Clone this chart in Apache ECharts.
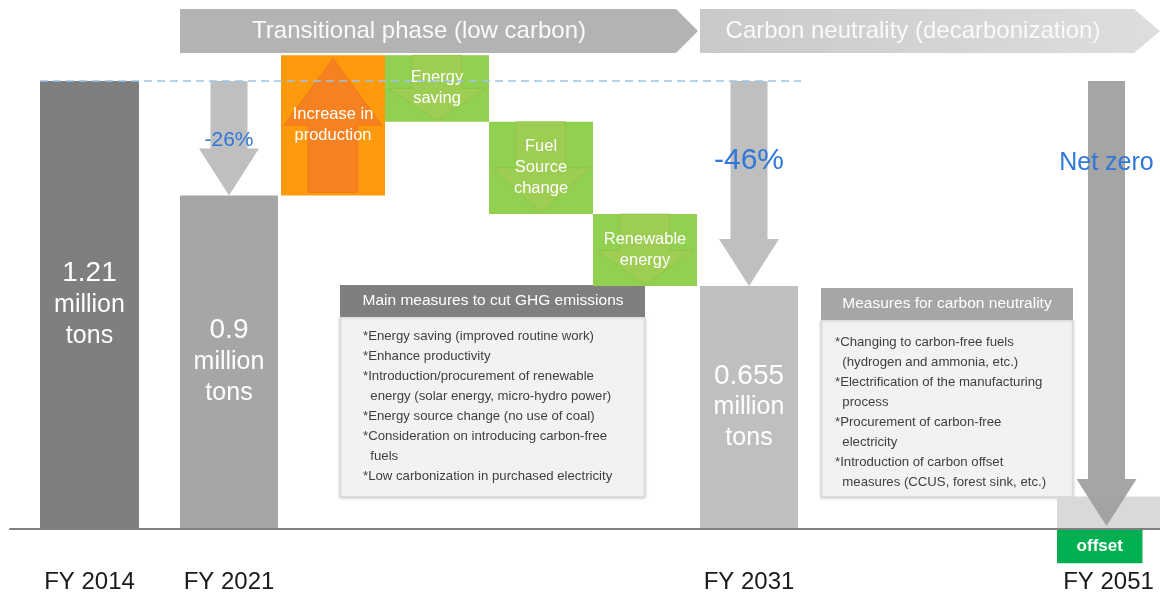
<!DOCTYPE html>
<html><head><meta charset="utf-8">
<script src="https://cdn.jsdelivr.net/npm/echarts@6/dist/echarts.min.js"></script>
<style>html,body{margin:0;padding:0;background:#fff}#c{width:1160px;height:594px}</style>
</head><body><div id="c"></div>
<script>
// ---------------- data ----------------
const baseYear = ['FY 2014'];
const baseValue = [1.21];
const stepCategories = ['FY 2021', 'Increase in production', 'Energy saving', 'Fuel Source change', 'Renewable energy', 'FY 2031'];
const stepLabels = ['', 'Increase in\nproduction', 'Energy\nsaving', 'Fuel\nSource\nchange', 'Renewable\nenergy', ''];
const totals = [0.9, null, null, null, null, 0.655];
const deltas = [null, 0.38, -0.18, -0.25, -0.195, null];
const reductionLabels = ['-26%', '-46%'];
const netZeroYear = ['FY 2051'];
const residualEmissions = [0.085];
const offsetAmount = [-0.09];
const netZeroLabel = 'Net zero';
const offsetLabel = 'offset';
const phaseLabels = ['Transitional phase (low carbon)', 'Carbon neutrality (decarbonization)'];
const mainMeasuresTitle = 'Main measures to cut GHG emissions';
const mainMeasures = [
  '*Energy saving (improved routine work)',
  '*Enhance productivity',
  '*Introduction/procurement of renewable',
  '  energy (solar energy, micro-hydro power)',
  '*Energy source change (no use of coal)',
  '*Consideration on introducing carbon-free',
  '  fuels',
  '*Low carbonization in purchased electricity'
];
const neutralityTitle = 'Measures for carbon neutrality';
const neutralityMeasures = [
  '*Changing to carbon-free fuels',
  '  (hydrogen and ammonia, etc.)',
  '*Electrification of the manufacturing',
  '  process',
  '*Procurement of carbon-free',
  '  electricity',
  '*Introduction of carbon offset',
  '  measures (CCUS, forest sink, etc.)'
];

// ---------------- layout / style ----------------
const FONT = '"Liberation Sans", Arial, Helvetica, sans-serif';
const BASE_Y = 528;
const UNIT = 447 / 1.21;
const Y_MAX = 1.4;
const gTop = BASE_Y - Y_MAX * UNIT;
const gBottom = 594 - BASE_Y;
const C_MIN = -0.1;
const gBottomC = gBottom + C_MIN * UNIT;
const BLUE = '#2f77d8';
const totalColors = ['#a6a6a6', null, null, null, null, '#bfbfbf'];
const LABEL_MARGIN = 42;

const chart = echarts.init(document.getElementById('c'));

// waterfall steps
const stepData = [];
let level = totals[0];
deltas.forEach((d, i) => {
  if (d == null) return;
  stepData.push([i, level, level + d]);
  level += d;
});

const arrowData = [[0, baseValue[0], totals[0]], [5, baseValue[0], totals[5]]];
const arrowStyle = [
  {color: '#bfbfbf', dy: 59, size: 21},
  {color: '#bfbfbf', dy: 80, size: 30}
];

function downArrow(cx, yTop, yBot, color) {
  const sw = 37, hw = 60, hh = 47;
  return {
    type: 'polygon',
    shape: {points: [[cx - sw/2, yTop], [cx + sw/2, yTop], [cx + sw/2, yBot - hh], [cx + hw/2, yBot - hh],
      [cx, yBot], [cx - hw/2, yBot - hh], [cx - sw/2, yBot - hh]]},
    style: {fill: color}
  };
}

function renderStep(params, api) {
  const i = api.value(0), s = api.value(1), e = api.value(2);
  const p0 = api.coord([i, s]), p1 = api.coord([i, e]);
  const band = api.size([1, 0])[0];
  const cx = p0[0], x0 = cx - band / 2;
  const yTop = Math.min(p0[1], p1[1]), yBot = Math.max(p0[1], p1[1]);
  const h = yBot - yTop;
  const up = e > s;
  const m = 3, sw = band * 0.48;
  const mid = yTop + h * 0.5;
  let pts;
  if (up) {
    pts = [[cx, yTop + m], [x0 + band - m, mid], [cx + sw/2, mid], [cx + sw/2, yBot - m],
      [cx - sw/2, yBot - m], [cx - sw/2, mid], [x0 + m, mid]];
  } else {
    pts = [[cx - sw/2, yTop], [cx + sw/2, yTop], [cx + sw/2, mid], [x0 + band - m, mid],
      [cx, yBot - 1], [x0 + m, mid], [cx - sw/2, mid]];
  }
  return {
    type: 'group',
    children: [
      {type: 'rect', shape: {x: x0, y: yTop, width: band, height: h},
        style: {fill: up ? '#fd9a0c' : '#92d050'}},
      {type: 'polygon', shape: {points: pts},
        style: up ? {fill: 'rgba(243,120,40,0.75)', stroke: 'rgba(230,100,30,0.4)', lineWidth: 1}
                  : {fill: 'rgba(160,205,85,0.85)', stroke: 'rgba(130,190,60,0.5)', lineWidth: 1}},
      {type: 'text', x: cx, y: (yTop + yBot) / 2,
        style: {text: stepLabels[i], fill: '#fff', fontSize: 16.5, fontFamily: FONT, lineHeight: 21,
          align: 'center', verticalAlign: 'middle'}}
    ]
  };
}

function renderReduction(params, api) {
  const idx = params.dataIndex;
  const i = api.value(0);
  const pTop = api.coord([i, api.value(1)]), pBot = api.coord([i, api.value(2)]);
  const st = arrowStyle[idx];
  return {
    type: 'group',
    children: [
      downArrow(pTop[0], pTop[1], pBot[1], st.color),
      {type: 'text', x: pTop[0], y: pTop[1] + st.dy,
        style: {text: reductionLabels[idx], fill: BLUE, fontSize: st.size, fontFamily: FONT,
          align: 'center', verticalAlign: 'middle'}}
    ]
  };
}

function renderNetZero(params, api) {
  const band = api.size([1, 0])[0];
  const p0 = api.coord([0, 0]);
  const pr = api.coord([0, api.value(1)]);
  const po = api.coord([0, api.value(2)]);
  const pTop = api.coord([0, baseValue[0]]);
  const x0 = p0[0] - band / 2;
  const cx = p0[0] - 2;
  const gw = band * 0.83;
  return {
    type: 'group',
    children: [
      {type: 'rect', shape: {x: x0, y: pr[1], width: band, height: p0[1] - pr[1]}, style: {fill: '#d9d9d9'}},
      {type: 'rect', shape: {x: x0, y: p0[1] + 2, width: gw, height: po[1] - p0[1]}, style: {fill: '#00b050'}},
      {type: 'text', x: x0 + gw / 2, y: (p0[1] + 2 + po[1] + 2) / 2,
        style: {text: offsetLabel, fill: '#fff', fontSize: 17, fontWeight: 'bold', fontFamily: FONT,
          align: 'center', verticalAlign: 'middle'}},
      downArrow(cx, pTop[1], p0[1] - 2, 'rgba(160,160,160,0.95)'),
      {type: 'text', x: cx, y: pTop[1] + 82,
        style: {text: netZeroLabel, fill: BLUE, fontSize: 25, fontFamily: FONT,
          align: 'center', verticalAlign: 'middle'}}
    ]
  };
}

const barLabel = {
  show: true, position: 'inside', color: '#fff',
  formatter: p => `{n|${p.value}}\n{t|million}\n{t|tons}`,
  rich: {
    n: {fontSize: 28, lineHeight: 32, color: '#fff', fontFamily: FONT},
    t: {fontSize: 25, lineHeight: 31, color: '#fff', fontFamily: FONT}
  }
};

const xLabel = {fontSize: 24, color: '#1a1a1a', fontFamily: FONT};

const option = {
  animation: false,
  grid: [
    {left: 40, width: 99, top: gTop, bottom: gBottom},           // 0 FY2014
    {left: 177, width: 624, top: gTop, bottom: gBottom},         // 1 waterfall
    {left: 1057, width: 104, top: gTop, bottom: gBottomC},       // 2 FY2051
    {left: 40, width: 761, top: gTop, bottom: gBottom},          // 3 reference line
    {left: 10, right: 0, top: gTop, bottom: gBottom - 1}         // 4 baseline
  ],
  xAxis: [
    {gridIndex: 0, type: 'category', data: baseYear, axisLine: {show: false}, axisTick: {show: false},
      axisLabel: Object.assign({margin: LABEL_MARGIN}, xLabel)},
    {gridIndex: 1, type: 'category', data: stepCategories, axisLine: {show: false}, axisTick: {show: false},
      axisLabel: Object.assign({margin: LABEL_MARGIN, interval: 0, formatter: v => v.startsWith('FY') ? v : ''}, xLabel)},
    {gridIndex: 2, type: 'category', data: netZeroYear, axisLine: {show: false, onZero: false}, axisTick: {show: false},
      axisLabel: Object.assign({margin: LABEL_MARGIN + C_MIN * UNIT}, xLabel)},
    {gridIndex: 3, type: 'value', min: 0, max: 1, show: false},
    {gridIndex: 4, type: 'category', data: [''], axisLine: {show: true, lineStyle: {color: '#7f7f7f', width: 2}},
      axisTick: {show: false}, axisLabel: {show: false}}
  ],
  yAxis: [
    {gridIndex: 0, type: 'value', min: 0, max: Y_MAX, show: false},
    {gridIndex: 1, type: 'value', min: 0, max: Y_MAX, show: false},
    {gridIndex: 2, type: 'value', min: C_MIN, max: Y_MAX, show: false},
    {gridIndex: 3, type: 'value', min: 0, max: Y_MAX, show: false},
    {gridIndex: 4, type: 'value', min: 0, max: Y_MAX, show: false}
  ],
  series: [
    {type: 'line', xAxisIndex: 3, yAxisIndex: 3, data: [], z: 1, silent: true,
      markLine: {silent: true, symbol: 'none', label: {show: false},
        lineStyle: {color: '#9dc3e6', width: 1.5, type: [8, 5]},
        data: [{yAxis: baseValue[0]}]}},
    {type: 'bar', xAxisIndex: 0, yAxisIndex: 0, data: baseValue, barWidth: '100%',
      itemStyle: {color: '#7f7f7f'}, label: barLabel, z: 2},
    {type: 'bar', xAxisIndex: 1, yAxisIndex: 1, barWidth: 98, z: 2,
      data: totals.map((v, i) => v == null ? null : {value: v, itemStyle: {color: totalColors[i]}}),
      label: barLabel},
    {type: 'custom', xAxisIndex: 1, yAxisIndex: 1, data: stepData, renderItem: renderStep, z: 3},
    {type: 'custom', xAxisIndex: 1, yAxisIndex: 1, data: arrowData, renderItem: renderReduction, z: 4},
    {type: 'custom', xAxisIndex: 2, yAxisIndex: 2, data: [[0, residualEmissions[0], offsetAmount[0]]],
      renderItem: renderNetZero, z: 4}
  ],
  graphic: [
    {type: 'polygon', shape: {points: [[180, 9], [676, 9], [698, 31], [676, 53], [180, 53]]},
      style: {fill: '#b3b3b3'}},
    {type: 'text', x: 419, y: 31, style: {text: phaseLabels[0], fill: '#fafafa', fontSize: 24, fontFamily: FONT,
      align: 'center', verticalAlign: 'middle'}},
    {type: 'polygon', shape: {points: [[700, 9], [1134, 9], [1160, 31], [1134, 53], [700, 53]]},
      style: {fill: new echarts.graphic.LinearGradient(0, 0, 1, 0, [{offset: 0, color: '#c9c9c9'}, {offset: 1, color: '#dedede'}])}},
    {type: 'text', x: 913, y: 31, style: {text: phaseLabels[1], fill: '#fafafa', fontSize: 24, fontFamily: FONT,
      align: 'center', verticalAlign: 'middle'}},
    // left info box
    {type: 'rect', shape: {x: 340, y: 317, width: 305, height: 180},
      style: {fill: '#f2f2f2', stroke: '#d4d4d4', lineWidth: 1, shadowBlur: 3, shadowColor: 'rgba(0,0,0,0.18)', shadowOffsetY: 1}},
    {type: 'rect', shape: {x: 340, y: 285, width: 305, height: 32}, style: {fill: '#7f7f7f'}},
    {type: 'text', x: 493, y: 301, style: {text: mainMeasuresTitle, fill: '#fff', fontSize: 15.5, fontFamily: FONT,
      align: 'center', verticalAlign: 'middle'}},
    {type: 'text', x: 363, y: 326, style: {text: mainMeasures.join('\n'), fill: '#404040', fontSize: 13.2, lineHeight: 20,
      fontFamily: FONT, align: 'left', verticalAlign: 'top'}},
    // right info box
    {type: 'rect', shape: {x: 821, y: 320, width: 252, height: 177},
      style: {fill: '#f2f2f2', stroke: '#d4d4d4', lineWidth: 1, shadowBlur: 3, shadowColor: 'rgba(0,0,0,0.18)', shadowOffsetY: 1}},
    {type: 'rect', shape: {x: 821, y: 288, width: 252, height: 32}, style: {fill: '#a6a6a6'}},
    {type: 'text', x: 947, y: 304, style: {text: neutralityTitle, fill: '#fff', fontSize: 15.5, fontFamily: FONT,
      align: 'center', verticalAlign: 'middle'}},
    {type: 'text', x: 835, y: 332, style: {text: neutralityMeasures.join('\n'), fill: '#404040', fontSize: 13.2, lineHeight: 20,
      fontFamily: FONT, align: 'left', verticalAlign: 'top'}}
  ]
};
chart.setOption(option);
</script>
</body></html>
